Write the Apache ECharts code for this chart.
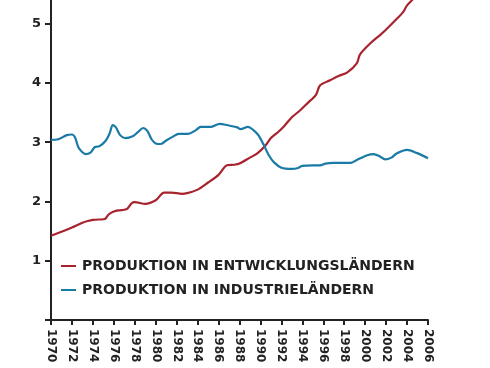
<!DOCTYPE html>
<html>
<head>
<meta charset="utf-8">
<script src="https://cdn.jsdelivr.net/npm/echarts@6/dist/echarts.min.js"></script>
<style>html,body{margin:0;padding:0;background:#fff}#c{width:490px;height:368px}</style>
</head>
<body>
<div id="c"></div>
<script>
var yearTicks = [1970,1972,1974,1976,1978,1980,1982,1984,1986,1988,1990,1992,1994,1996,1998,2000,2002,2004,2006];
var valueTicks = [1,2,3,4,5];
var seriesNames = ['PRODUKTION IN ENTWICKLUNGSLÄNDERN', 'PRODUKTION IN INDUSTRIELÄNDERN'];

var devYears = [1970,1971,1972,1973,1973.5,1974,1975,1975.2,1975.5,1976,1976.5,1977,1977.3,1977.7,1978,1979,1980,1980.8,1981.5,1982.5,1983,1984,1985,1986,1986.8,1987.5,1988,1989,1989.7,1990.5,1991,1991.8,1992.3,1993,1993.8,1994.5,1995.3,1995.7,1996.7,1997.5,1998.3,1999.2,1999.5,2000.5,2001.5,2002.1,2003,2003.6,2004,2004.6,2005,2006];
var devValues = [1.42,1.49,1.56,1.64,1.67,1.69,1.70,1.71,1.78,1.83,1.85,1.86,1.88,1.97,1.99,1.96,2.02,2.15,2.15,2.13,2.14,2.20,2.32,2.45,2.61,2.62,2.64,2.74,2.81,2.95,3.07,3.19,3.28,3.42,3.54,3.66,3.80,3.96,4.05,4.12,4.18,4.33,4.48,4.67,4.82,4.92,5.08,5.19,5.31,5.42,5.50,5.60];

var indYears = [1970,1970.7,1971.5,1972,1972.3,1972.6,1973,1973.3,1973.8,1974.2,1974.6,1975.2,1975.6,1975.9,1976.2,1976.6,1977.1,1977.8,1978.3,1978.8,1979.2,1979.6,1980,1980.5,1981,1981.6,1982.2,1983.1,1983.8,1984.3,1985.3,1986.1,1986.8,1987.8,1988.1,1988.8,1989.3,1989.8,1990.3,1990.8,1991.3,1992,1993,1993.5,1994,1995,1995.7,1996.2,1997,1998.6,1999.2,2000.2,2000.8,2001.4,2001.9,2002.5,2003,2004,2004.9,2006];
var indValues = [3.04,3.05,3.12,3.13,3.08,2.92,2.83,2.80,2.83,2.92,2.93,3.02,3.15,3.29,3.25,3.12,3.07,3.10,3.17,3.24,3.19,3.05,2.98,2.97,3.03,3.09,3.14,3.14,3.20,3.26,3.26,3.31,3.29,3.25,3.22,3.26,3.21,3.12,2.96,2.78,2.66,2.57,2.55,2.56,2.60,2.61,2.61,2.64,2.65,2.65,2.70,2.78,2.80,2.76,2.71,2.74,2.81,2.87,2.82,2.73];

function pairs(xs, ys) { return xs.map(function (x, i) { return [x, ys[i]]; }); }

var chart = echarts.init(document.getElementById('c'), null, {renderer: 'canvas'});
var font = '"DejaVu Sans", sans-serif';
chart.setOption({
  animation: false,
  backgroundColor: '#fff',
  grid: {left: 51, right: 62, top: 0, bottom: 48, containLabel: false},
  legend: {
    orient: 'vertical', left: 56, top: 254,
    itemWidth: 15, itemHeight: 2, itemGap: 10, icon: 'rect',
    data: seriesNames,
    textStyle: {fontFamily: font, fontWeight: 'bold', fontSize: 14, color: '#222', padding: [0,0,0,1]}
  },
  xAxis: {
    type: 'value', min: yearTicks[0], max: yearTicks[yearTicks.length - 1], interval: 2,
    axisLine: {show: true, onZero: false, lineStyle: {color: '#222', width: 2}},
    axisTick: {show: true, length: 5, lineStyle: {color: '#222', width: 2}},
    splitLine: {show: false},
    axisLabel: {rotate: -90, margin: 9, fontFamily: font, fontWeight: 'bold', fontSize: 12, color: '#222',
      formatter: function (v) { return yearTicks.indexOf(v) >= 0 ? String(v) : ''; }}
  },
  yAxis: {
    type: 'value', min: 0, max: 5.4, interval: 1,
    axisLine: {show: true, lineStyle: {color: '#222', width: 2}},
    axisTick: {show: true, length: 6, lineStyle: {color: '#222', width: 2}},
    splitLine: {show: false},
    axisLabel: {margin: 10, fontFamily: font, fontWeight: 'bold', fontSize: 13, color: '#222', showMaxLabel: false,
      formatter: function (v) { return valueTicks.indexOf(v) >= 0 ? String(v) : ''; }}
  },
  series: [
    {name: seriesNames[0], type: 'line', data: pairs(devYears, devValues), smooth: 0.3, showSymbol: false, symbol: 'none', clip: true,
      lineStyle: {color: '#a8232e', width: 2.2}, itemStyle: {color: '#a8232e'}},
    {name: seriesNames[1], type: 'line', data: pairs(indYears, indValues), smooth: 0.3, showSymbol: false, symbol: 'none', clip: true,
      lineStyle: {color: '#1a7aa6', width: 2.2}, itemStyle: {color: '#1a7aa6'}}
  ]
});
</script>
</body>
</html>
